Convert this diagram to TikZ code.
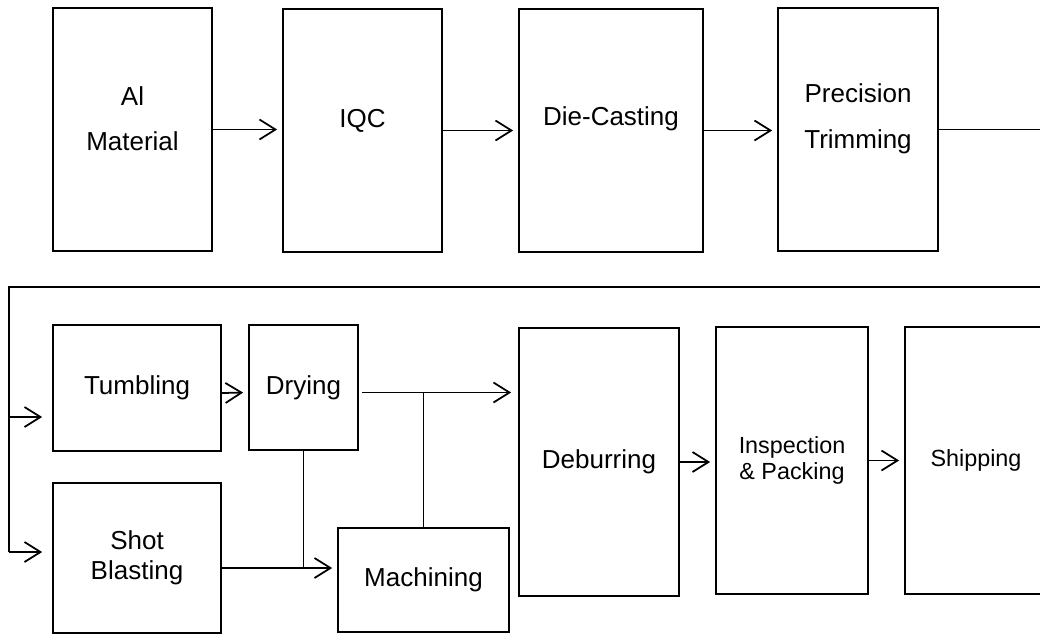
\documentclass[tikz,border=0pt]{standalone}
\usepackage{fontspec}
\setmainfont{Liberation Sans}
\usetikzlibrary{arrows.meta}
\tikzset{
  stage/.style={draw, line width=1pt, align=center, inner sep=0pt,
    font=\fontsize{14.8pt}{26pt}\selectfont},
  flow/.style={-{Straight Barb[length=3.2mm,width=4mm,line width=1pt]},
    line width=1pt, shorten >=0.1cm},
  link/.style={line width=1pt}
}
\begin{document}
\begin{tikzpicture}[x=0.02cm, y=-0.02cm]
  \clip (0,0) rectangle (1040,635);

  % Top row
  \node[stage, minimum width=3.18cm, minimum height=4.86cm, text depth=12.5pt] (mat) at (132.5,129.5) {Al\\Material};
  \node[stage, minimum width=3.18cm, minimum height=4.86cm, text depth=13.6pt] (iqc) at (362.5,130.5) {IQC};
  \node[stage, minimum width=3.68cm, minimum height=4.86cm, text depth=16.7pt] (die) at (611,130.5) {Die-Casting};
  \node[stage, minimum width=3.2cm, minimum height=4.86cm, text depth=15.6pt] (trim) at (858,129.5) {Precision\\Trimming};

  % Bottom row
  \node[stage, minimum width=3.36cm, minimum height=2.52cm] (tumb) at (137,388) {Tumbling};
  \node[stage, minimum width=2.18cm, minimum height=2.5cm] (dry) at (303.5,387.5) {Drying};
  \node[stage, minimum width=3.36cm, minimum height=3cm,
    font=\fontsize{14.8pt}{17pt}\selectfont] (shot) at (137,558) {Shot\\Blasting};
  \node[stage, minimum width=3.42cm, minimum height=2.08cm] (mach) at (423.5,580) {Machining};
  \node[stage, minimum width=3.2cm, minimum height=5.36cm] (deb) at (599,462) {Deburring};
  \node[stage, minimum width=3.04cm, minimum height=5.34cm,
    font=\fontsize{13.3pt}{14.7pt}\selectfont] (insp) at (792,460.5) {Inspection\\\& Packing};
  \node[stage, minimum width=2.84cm, minimum height=5.34cm,
    font=\fontsize{13.3pt}{16pt}\selectfont] (ship) at (976,460.5) {Shipping};

  % Connectors
  \draw[flow] (mat.east) -- (iqc.west |- mat.east);
  \draw[flow] (iqc.east) -- (die.west |- iqc.east);
  \draw[flow] (die.east) -- (trim.west |- die.east);

  \coordinate (turnR) at (1048,287);
  \coordinate (turnL) at (9,287);
  \coordinate (splitT) at (9,417);
  \coordinate (splitS) at (9,552);
  \draw[link] (trim.east) -| (turnR) -- (turnL) -- (splitS);
  \draw[flow, shorten >=0.2cm] (splitT) -- (tumb.west |- splitT);
  \draw[flow, shorten >=0.2cm] (splitS) -- (shot.west |- splitS);

  \draw[flow] ([yshift=-0.1cm]tumb.east) -- ([yshift=-0.1cm]dry.west);
  \coordinate (dOut) at ([xshift=0.06cm,yshift=-0.1cm]dry.east);
  \draw[flow, shorten >=0.14cm] (dOut) -- (deb.west |- dOut);
  \draw[link] (mach.north) -- (mach.north |- dOut);

  \coordinate (sOut) at ([yshift=-0.2cm]shot.east);
  \draw[flow] (sOut) -- (mach.west |- sOut);
  \draw[link] (dry.south) -- (dry.south |- sOut);

  \draw[flow] (deb.east) -- (insp.west |- deb.east);
  \draw[flow] (insp.east) -- (ship.west);
\end{tikzpicture}
\end{document}
